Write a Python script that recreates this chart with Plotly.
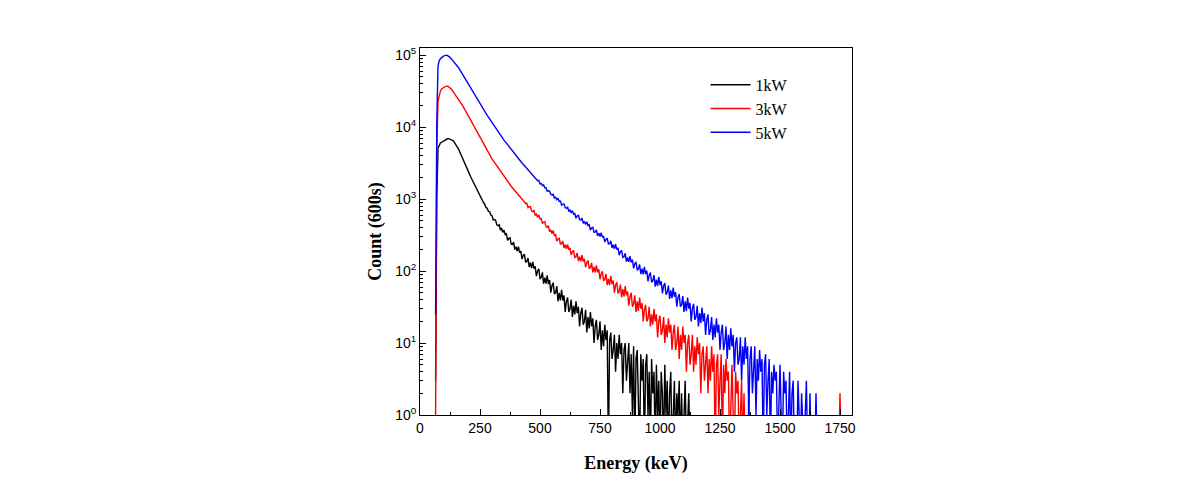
import plotly.graph_objects as go

# Energy grid start/step (keV) for the spectra
E_START = 65
E_STEP = 5

series_names = ["1kW", "3kW", "5kW"]
series_colors = ["#000000", "#ff0000", "#0000ff"]

counts_1kw = [
    3, 1000, 5100, 5750, 6030, 6170, 6310, 6530, 6680, 6790, 6890, 6920,
    6850, 6780, 6580, 6370, 6050, 5740, 5360, 5000, 4600, 4240, 3880, 3560,
    3250, 2970, 2720, 2480, 2280, 2080, 1920, 1760, 1630, 1500, 1390, 1280,
    1190, 1100, 1025, 953, 889, 845, 765, 745, 675, 672, 603, 590,
    515, 520, 510, 440, 427, 440, 372, 388, 345, 370, 321, 328,
    267, 285, 290, 237, 235, 253, 199, 218, 189, 218, 181, 190,
    147, 165, 171, 134, 135, 152, 114, 131, 110, 134, 108, 116,
    85, 100, 107, 79, 81, 96, 67, 81, 67, 87, 66, 75,
    50, 63, 69, 48, 50, 62, 38, 50, 39, 55, 39, 46,
    27, 38, 43, 27, 30, 40, 23, 33, 25, 38, 26, 32,
    17, 26, 31, 18, 20, 29, 14, 23, 16, 27, 17, 22,
    10, 17, 21, 11, 13, 20, 8, 15, 9, 18, 11, 15,
    0, 11, 14, 6, 8, 13, 4, 10, 6, 13, 7, 10,
    2, 8, 10, 3, 5, 10, 2, 7, 1, 9, 0, 6,
    8, 2, 0, 7, 3, 6, 0, 5, 7, 1, 4, 0,
    6, 2, 4, 0, 5, 1, 3, 0, 4, 2, 0, 5,
    1, 3, 0, 2, 4, 0, 1, 3, 0, 2, 1, 3,
    0, 2, 0, 1, 3, 0, 1, 2, 0, 1, 0,
]

counts_3kw = [
    1, 5000, 22900, 28200, 31600, 33900, 35100, 36000, 36700, 37200, 37200, 36300,
    35500, 33900, 32100, 30500, 29000, 27500, 26100, 24800, 23400, 21900, 20600, 19300,
    18000, 16700, 15500, 14400, 13400, 12500, 11600, 10800, 10000, 9330, 8710, 8130,
    7550, 7000, 6530, 6100, 5700, 5350, 5010, 4700, 4410, 4130, 3870, 3630,
    3430, 3240, 3050, 2880, 2720, 2570, 2430, 2290, 2170, 2060, 1950, 1860,
    1770, 1670, 1590, 1510, 1440, 1370, 1310, 1240, 1190, 1130, 1080, 1035,
    995, 955, 918, 872, 876, 765, 786, 784, 684, 671, 695, 594,
    619, 561, 603, 531, 539, 459, 480, 485, 412, 406, 427, 352,
    374, 331, 366, 313, 321, 261, 280, 286, 238, 239, 261, 209,
    232, 204, 235, 199, 210, 167, 186, 194, 155, 158, 179, 138,
    159, 137, 166, 136, 148, 113, 131, 141, 109, 112, 130, 96,
    114, 96, 120, 96, 106, 77, 92, 99, 73, 77, 91, 64,
    78, 64, 85, 66, 74, 50, 64, 70, 49, 52, 65, 43,
    56, 44, 62, 46, 52, 33, 44, 50, 32, 35, 46, 27,
    38, 28, 43, 30, 36, 20, 29, 34, 20, 22, 32, 17,
    25, 18, 30, 20, 25, 12, 20, 24, 13, 15, 23, 10,
    18, 12, 22, 14, 18, 8, 14, 18, 8, 10, 17, 6,
    13, 8, 17, 10, 13, 4, 10, 13, 5, 7, 13, 4,
    9, 5, 12, 7, 10, 2, 7, 9, 3, 5, 9, 2,
    6, 3, 9, 4, 7, 0, 5, 7, 1, 3, 7, 0,
    5, 2, 6, 3, 4, 0, 2, 5, 1, 0, 4, 2,
    3, 0, 1, 3, 0, 2, 0, 1, 0, 2, 0, 0,
    1, 0,
]
# isolated late channel of the 3kW spectrum
spike_3kw_energy = [1745, 1750, 1755]
spike_3kw_counts = [0, 2, 0]

counts_5kw = [
    25, 12000, 70000, 84000, 89100, 93300, 95500, 97700, 99500, 100000, 98600, 96600,
    93300, 89500, 85900, 82400, 79100, 75900, 71600, 67500, 63700, 60000, 56600, 53000,
    49700, 46500, 43600, 40700, 38100, 35600, 33300, 31200, 29200, 27400, 25600, 24100,
    22600, 21200, 19900, 18700, 17500, 16500, 15500, 14600, 13800, 13000, 12200, 11500,
    10900, 10300, 9730, 9180, 8670, 8200, 7780, 7360, 6980, 6610, 6280, 5970,
    5680, 5400, 5130, 4890, 4660, 4430, 4220, 4020, 3840, 3660, 3490, 3330,
    3180, 3050, 2920, 2790, 2670, 2550, 2450, 2340, 2250, 2150, 2070, 2020,
    1890, 1804, 1819, 1628, 1650, 1534, 1580, 1439, 1437, 1288, 1307, 1296,
    1168, 1140, 1167, 1031, 1061, 981, 1029, 931, 938, 827, 853, 855,
    757, 747, 777, 674, 703, 644, 692, 617, 629, 542, 588, 595,
    518, 514, 544, 461, 490, 444, 486, 428, 441, 372, 397, 405,
    346, 347, 374, 309, 336, 302, 340, 294, 307, 253, 276, 286,
    238, 240, 263, 210, 233, 204, 236, 199, 210, 166, 186, 194,
    155, 157, 177, 135, 155, 134, 161, 132, 144, 109, 126, 134,
    103, 107, 124, 91, 108, 90, 114, 91, 101, 72, 88, 95,
    70, 73, 88, 61, 76, 62, 83, 64, 72, 49, 62, 68,
    47, 51, 63, 41, 54, 42, 59, 44, 51, 32, 43, 48,
    32, 34, 45, 27, 38, 28, 43, 30, 36, 20, 30, 35,
    21, 23, 33, 17, 26, 19, 31, 20, 26, 13, 21, 25,
    13, 15, 23, 11, 18, 12, 22, 14, 18, 8, 14, 18,
    8, 10, 17, 6, 13, 8, 16, 9, 13, 4, 10, 12,
    5, 6, 12, 3, 9, 5, 12, 6, 9, 1, 6, 9,
    2, 4, 9, 1, 6, 3, 8, 4, 6, 0, 5, 7,
    1, 3, 6, 0, 4, 2, 5, 3, 4, 0, 2, 5,
    1, 0, 4, 2, 3, 0, 1, 4, 0, 2, 3, 0,
    1, 0, 3, 1, 0, 2, 0, 0, 1, 3, 0, 0,
    2, 0, 1, 0, 0, 2, 0, 1, 0,
]

x_tick_vals = [0, 250, 500, 750, 1000, 1250, 1500, 1750]
x_minor_vals = [125, 375, 625, 875, 1125, 1375, 1625]
y_decades = [0, 1, 2, 3, 4, 5]
ZERO_DISPLAY = 0.3  # zero-count channels are drawn down past the axis floor


def energies(n):
    return [E_START + E_STEP * i for i in range(n)]


def display(counts):
    return [c if c > 0 else ZERO_DISPLAY for c in counts]


fig = go.Figure()
all_series = [
    (energies(len(counts_1kw)), counts_1kw),
    (energies(len(counts_3kw)) + spike_3kw_energy, counts_3kw + spike_3kw_counts),
    (energies(len(counts_5kw)), counts_5kw),
]
for (xs, cs), name, col in zip(all_series, series_names, series_colors):
    fig.add_trace(go.Scatter(x=xs, y=display(cs), mode="lines", name=name,
                             line=dict(color=col, width=1.4)))

tick_font = dict(family="Liberation Sans, Arial, sans-serif", size=14, color="black")
title_font = dict(family="Liberation Serif, Times New Roman, serif", size=18, color="black")

fig.update_layout(
    width=1190, height=502,
    margin=dict(l=412, r=346, t=40, b=95),
    paper_bgcolor="white", plot_bgcolor="white",
    showlegend=True,
    legend=dict(x=0.661, y=0.946, xanchor="left", yanchor="top",
                bgcolor="rgba(0,0,0,0)", itemwidth=40,
                font=dict(family="Liberation Serif, Times New Roman, serif", size=16, color="black")),
    xaxis=dict(
        range=[0, 1800], tickvals=x_tick_vals, ticktext=[str(v) for v in x_tick_vals],
        ticks="inside", ticklen=6, tickwidth=1, tickcolor="black",
        minor=dict(tickvals=x_minor_vals, ticks="inside", ticklen=3, tickcolor="black"),
        showline=True, linecolor="black", linewidth=1, mirror=True,
        showgrid=False, zeroline=False, tickfont=tick_font,
        title=dict(text="<b>Energy (keV)</b>", font=title_font, standoff=21),
    ),
    yaxis=dict(
        type="log", range=[0, 5.1],
        tickvals=[10 ** d for d in y_decades],
        ticktext=["10<sup>%d</sup>" % d for d in y_decades],
        ticks="inside", ticklen=6, tickwidth=1, tickcolor="black",
        minor=dict(tickvals=[m * 10 ** d for d in y_decades[:-1] for m in range(2, 10)],
                   ticks="inside", ticklen=3, tickcolor="black"),
        showline=True, linecolor="black", linewidth=1, mirror=True,
        showgrid=False, zeroline=False, tickfont=tick_font,
        title=dict(text="<b>Count (600s)</b>", font=title_font, standoff=8),
    ),
)

fig.write_html("out.html")
